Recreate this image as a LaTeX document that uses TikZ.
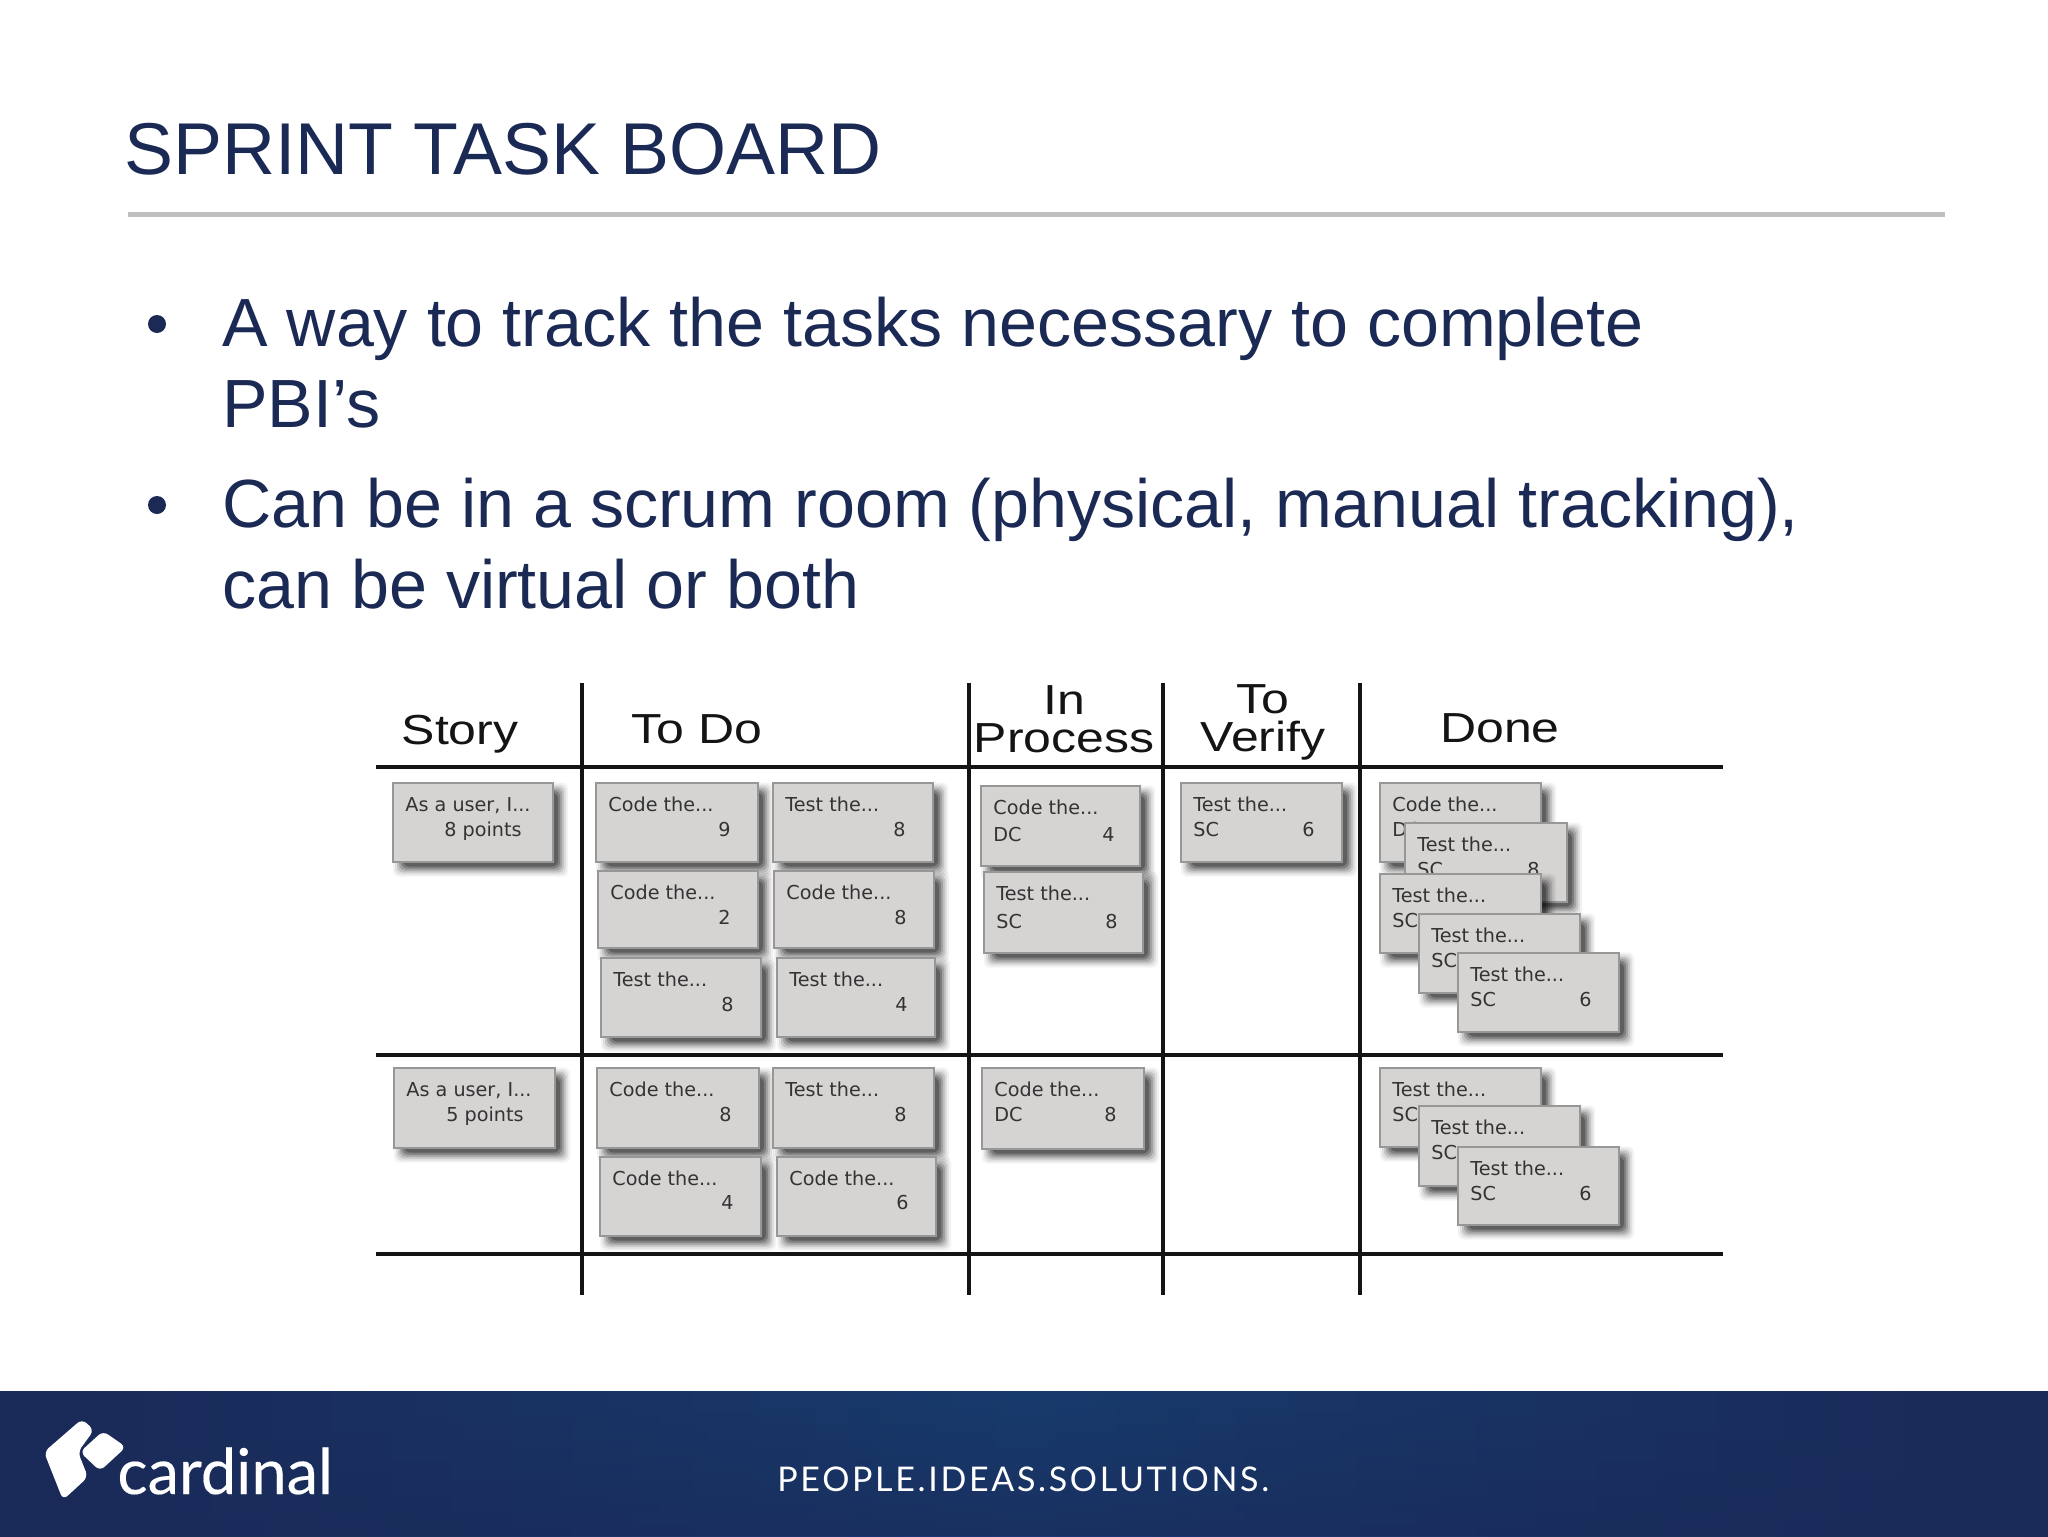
\documentclass[tikz,border=0pt]{standalone}
\usepackage{fontspec}
\setmainfont{Liberation Sans}
\newfontfamily\cardfont{DejaVu Sans}
\newfontfamily\logofont[FakeBold=0.25]{Lato}
\newfontfamily\tagfont[LetterSpace=7.8]{Lato}
\usetikzlibrary{calc,fadings}
\definecolor{ink}{HTML}{1B2A55}
\definecolor{footL}{HTML}{1A2A58}
\definecolor{footM}{HTML}{173B6D}
\definecolor{rulegray}{HTML}{BFBFBF}
\definecolor{cardfill}{HTML}{D6D4D3}
\definecolor{cardedge}{HTML}{979797}
\definecolor{boardink}{HTML}{141414}
\tikzset{
  titletext/.style={anchor=base west,inner sep=0pt,text=ink,font=\fontsize{36.7}{40}\selectfont},
  bodytext/.style={anchor=base west,inner sep=0pt,text=ink,font=\fontsize{34.1}{40}\selectfont},
  bulletmark/.style={circle,fill=ink,inner sep=0pt,minimum size=9pt},
  boardline/.style={draw=boardink,line width=2pt},
  headtext/.style={anchor=base,inner sep=0pt,text=boardink,font=\fontsize{21}{24}\selectfont},
  cardbox/.style={draw=cardedge,fill=cardfill,line width=1.1pt},
  cardtext/.style={anchor=base west,inner sep=0pt,text=black!80,font=\cardfont\fontsize{9.6}{11}\selectfont},
  cardnum/.style={anchor=base east,inner sep=0pt,text=black!80,font=\cardfont\fontsize{9.6}{11}\selectfont},
}
\newcommand{\wide}[1]{\scalebox{1.19}[1]{#1}}
\newcommand{\taskcard}[7]{%
  \foreach \g/\o in {8/.05,6/.08,4/.12,2/.16,0/.22,-2/.25}{
    \fill[black,opacity=\o,rounded corners=3pt]
      ({#2+9-\g},{#3+7.5-\g}) rectangle ({#4+8+\g},{#5+6.5+\g});
  }
  \node[cardbox,anchor=north west,inner sep=0pt,rectangle,
        minimum width={(#4-#2)*0.5pt},minimum height={(#5-#3)*0.5pt}] (#1) at (#2,{#3-1.5}) {};
  \node[cardtext] (#1t) at ({#2+13},{#3+28}) {#6};
  #7
}
\begin{document}
\begin{tikzpicture}[x=0.5pt,y=-0.5pt]
\useasboundingbox (0,0) rectangle (2048,1536);
\fill[white] (0,0) rectangle (2048,1536);
% title
\node[titletext] (title) at (124,174) {SPRINT TASK BOARD};
\draw[rulegray,line width=2.5pt] (128,214) -- (1945,214);
% bullets
\node[bulletmark] (b1) at (157,324) {};
\node[bodytext] (l1) at (222,346) {A way to track the tasks necessary to complete};
\node[bodytext] (l2) at (222,427) {PBI’s};
\node[bulletmark] (b2) at (157,505) {};
\node[bodytext] (l3) at (222,527) {Can be in a scrum room (physical, manual tracking),};
\node[bodytext] (l4) at (222,608) {can be virtual or both};
% board
\foreach \yy in {767,1055,1254}{\draw[boardline] (376,\yy) -- (1723,\yy);}
\foreach \xx in {582,969,1163,1360}{\draw[boardline] (\xx,683) -- (\xx,1295);}
\node[headtext] (hstory) at (460,744) {\wide{Story}};
\node[headtext] (htodo) at (697,743) {\wide{To Do}};
\node[headtext] (hin) at (1064,714) {\wide{In}};
\node[headtext] (hproc) at (1064,752) {\wide{Process}};
\node[headtext] (hto) at (1263,713) {\wide{To}};
\node[headtext] (hver) at (1263,751) {\wide{Verify}};
\node[headtext] (hdone) at (1500,742) {\wide{Done}};
\begin{scope}[shift={(-2,0)}]
% story
\taskcard{s1}{394}{783}{554}{862}{As a user, I...}{\node[cardnum] (s1n) at (524,836) {8 points};}
\taskcard{s2}{395}{1068}{556}{1148}{As a user, I...}{\node[cardnum] (s2n) at (526,1121) {5 points};}
% to do
\taskcard{t1}{597}{783}{759}{862}{Code the...}{\node[cardnum] (t1n) at (733,836) {9};}
\taskcard{t2}{774}{783}{934}{862}{Test the...}{\node[cardnum] (t2n) at (908,836) {8};}
\taskcard{t3}{599}{871}{759}{948}{Code the...}{\node[cardnum] (t3n) at (733,924) {2};}
\taskcard{t4}{775}{871}{935}{948}{Code the...}{\node[cardnum] (t4n) at (909,924) {8};}
\taskcard{t5}{602}{958}{762}{1037}{Test the...}{\node[cardnum] (t5n) at (736,1011) {8};}
\taskcard{t6}{778}{958}{936}{1037}{Test the...}{\node[cardnum] (t6n) at (910,1011) {4};}
\taskcard{t7}{598}{1068}{760}{1148}{Code the...}{\node[cardnum] (t7n) at (734,1121) {8};}
\taskcard{t8}{774}{1068}{935}{1148}{Test the...}{\node[cardnum] (t8n) at (909,1121) {8};}
\taskcard{t9}{601}{1157}{762}{1236}{Code the...}{\node[cardnum] (t9n) at (736,1209) {4};}
\taskcard{t10}{778}{1157}{937}{1236}{Code the...}{\node[cardnum] (t10n) at (911,1209) {6};}
% in process
\taskcard{p1}{982}{786}{1141}{866}{Code the...}{\node[cardtext] (p1l) at (995,841) {DC};\node[cardnum] (p1n) at (1117,841) {4};}
\taskcard{p2}{985}{872}{1144}{953}{Test the...}{\node[cardtext] (p2l) at (998,928) {SC};\node[cardnum] (p2n) at (1120,928) {8};}
\taskcard{p3}{983}{1068}{1145}{1149}{Code the...}{\node[cardtext] (p3l) at (996,1121) {DC};\node[cardnum] (p3n) at (1119,1121) {8};}
% to verify
\taskcard{v1}{1182}{783}{1343}{862}{Test the...}{\node[cardtext] (v1l) at (1195,836) {SC};\node[cardnum] (v1n) at (1317,836) {6};}
% done
\taskcard{d1}{1381}{783}{1542}{862}{Code the...}{\node[cardtext] (d1l) at (1394,836) {DC};}
\taskcard{d2}{1406}{823}{1568}{902}{Test the...}{\node[cardtext] (d2l) at (1419,876) {SC};\node[cardnum] (d2n) at (1542,876) {8};}
\taskcard{d3}{1381}{874}{1542}{953}{Test the...}{\node[cardtext] (d3l) at (1394,927) {SC};}
\taskcard{d4}{1420}{914}{1581}{993}{Test the...}{\node[cardtext] (d4l) at (1433,967) {SC};}
\taskcard{d5}{1459}{953}{1620}{1032}{Test the...}{\node[cardtext] (d5l) at (1472,1006) {SC};\node[cardnum] (d5n) at (1594,1006) {6};}
\taskcard{d6}{1381}{1068}{1542}{1147}{Test the...}{\node[cardtext] (d6l) at (1394,1121) {SC};}
\taskcard{d7}{1420}{1106}{1581}{1186}{Test the...}{\node[cardtext] (d7l) at (1433,1159) {SC};}
\taskcard{d8}{1459}{1147}{1620}{1225}{Test the...}{\node[cardtext] (d8l) at (1472,1200) {SC};\node[cardnum] (d8n) at (1594,1200) {6};}
\end{scope}
% footer
\shade[left color=footL,right color=footM] (0,1391) rectangle (1024,1536);
\shade[left color=footM,right color=footL] (1024,1391) rectangle (2048,1536);
\fill[footL,opacity=.6,path fading=north] (0,1391) rectangle (2048,1536);
\fill[white,rounded corners=3pt] (82,1419) -- (94,1430) -- (78,1452) -- (88,1477) -- (63,1500) -- (44,1452) -- cycle;
\fill[white,rounded corners=3pt] (103,1431) -- (126,1447) -- (100,1471) -- (80,1452) -- cycle;
\node[anchor=base west,inner sep=0pt,text=white,font=\logofont\fontsize{31.6}{34}\selectfont] (logo) at (117,1494) {cardinal};
\node[anchor=base west,inner sep=0pt,text=white,font=\tagfont\fontsize{17}{20}\selectfont] (tag) at (777,1491) {PEOPLE.IDEAS.SOLUTIONS.};
\end{tikzpicture}
\end{document}
